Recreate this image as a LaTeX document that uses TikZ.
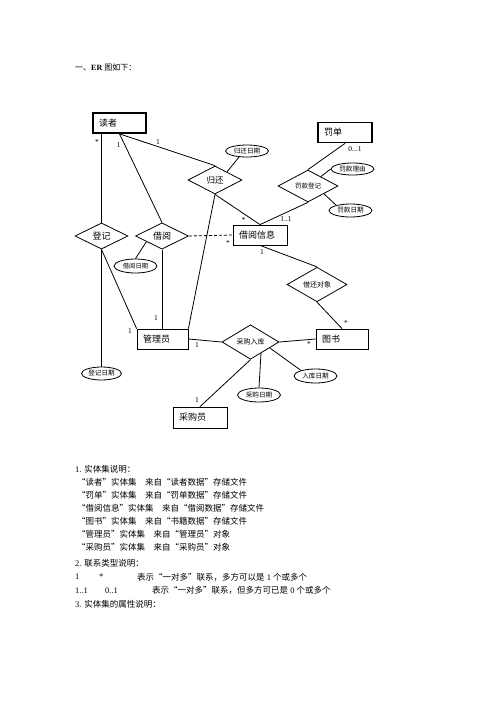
\documentclass[tikz,border=0pt]{standalone}
\usepackage{fontspec}
\setmainfont{Liberation Serif}
\newfontfamily\cjk{Noto Sans CJK SC}
\usetikzlibrary{shapes.geometric}
\begin{document}
\begin{tikzpicture}[x=1pt,y=-1pt,
  ent/.style={draw,line width=0.8pt,rectangle,minimum height=20pt,inner xsep=6pt,inner ysep=0pt,text width=#1,align=left,font=\cjk\fontsize{9}{9}\selectfont},
  thickent/.style={ent=#1,line width=1.7pt},
  rel/.style={draw,diamond,line width=0.8pt,inner sep=0pt},
  attr/.style={draw,ellipse,line width=0.8pt,inner sep=0pt,minimum width=43pt,minimum height=13pt,font=\cjk\fontsize{6.6}{6.6}\selectfont},
  lbl/.style={inner sep=0pt,font=\fontsize{7.5}{7.5}\selectfont},
  txt/.style={anchor=west,inner sep=0pt,font=\fontsize{8.5}{8.5}\selectfont},
  conn/.style={line width=0.8pt}]
\useasboundingbox (0,0) rectangle (496,702);

\node[txt,font=\fontsize{8}{8}\selectfont] (title) at (75,67) {{\cjk 一、}\textbf{ER} {\cjk 图如下：}};

% entities
\node[thickent=41pt] (reader) at (119.5,123) {读者};
\node[thickent=42pt] (fine) at (345,132.5) {罚单};
\node[ent=42pt] (binfo) at (260,235) {借阅信息};
\node[ent=39pt] (admin) at (162.5,339) {管理员};
\node[ent=40pt] (book) at (342,339) {图书};
\node[ent=42pt,minimum height=21pt] (buyer) at (200,417.5) {采购员};

% relationships
\node[rel,minimum width=53pt,minimum height=26pt,font=\cjk\fontsize{9}{9}\selectfont] (reg) at (101.5,236) {登记};
\node[rel,minimum width=53pt,minimum height=26pt,font=\cjk\fontsize{9}{9}\selectfont] (borrow) at (162,236) {借阅};
\node[rel,minimum width=54pt,minimum height=28pt,font=\cjk\fontsize{8.5}{8.5}\selectfont] (ret) at (215,180) {归还};
\node[rel,minimum width=60pt,minimum height=26pt,font=\cjk\fontsize{6.5}{6.5}\selectfont] (finereg) at (308,186) {罚款登记};
\node[rel,minimum width=60pt,minimum height=25pt,font=\cjk\fontsize{7}{7}\selectfont] (obj) at (317,284.5) {借还对象};
\node[rel,minimum width=57pt,minimum height=26pt,font=\cjk\fontsize{7}{7}\selectfont] (buy) at (250.5,342) {采购入库};

% attributes
\node[attr,minimum height=12pt] (rdate) at (247,151) {归还日期};
\node[attr,minimum height=12pt] (reason) at (352.5,169) {罚款理由};
\node[attr] (fdate) at (350.5,210.5) {罚款日期};
\node[attr,minimum height=14pt,font=\cjk\fontsize{6.3}{6.3}\selectfont] (bdate) at (135.5,266) {借阅日期};
\node[attr,minimum width=40pt] (rgdate) at (101.5,373.5) {登记日期};
\node[attr,minimum height=14pt] (pdate) at (259,395) {采购日期};
\node[attr,minimum height=14pt] (sdate) at (315.5,376) {入库日期};

% connectors
\draw[conn] (reg.north |- reader.south) -- (reg.north);
\draw[conn] (reader.south) -- (borrow.north);
\draw[conn] (reader.south) -- (ret.north);
\draw[conn] (ret.south) -- (binfo.north);
\draw[conn] (ret.south) -- (admin.north east);
\draw[conn] (ret.34) -- (rdate.-143);
\draw[conn] (finereg.north) -- (fine.south);
\draw[conn] (finereg.south) -- (binfo.north);
\draw[conn] (finereg.36) -- (reason.west);
\draw[conn] (finereg.-26) -- (fdate.160);
\draw[conn,dash pattern=on 3pt off 2pt] (borrow.east) -- (binfo.west);
\draw[conn] (borrow.-160) -- (bdate.north);
\draw[conn] (borrow.south) -- (borrow.south |- admin.north);
\draw[conn] (reg.south) -- (rgdate.north);
\draw[conn] (reg.south) -- (admin.north west);
\draw[conn] (binfo.south) -- (obj.north);
\draw[conn] (obj.south) -- (book.north);
\draw[conn] (admin.east) -- (buy.west);
\draw[conn] (buy.east) -- (book.west);
\draw[conn] (buy.south) -- (buyer.north);
\draw[conn] (buy.-47) -- (pdate.north);
\draw[conn] (buy.-17) -- (sdate.159);

% multiplicities
\node[lbl] (m1) at (97,142) {*};
\node[lbl] (m2) at (118.5,145) {1};
\node[lbl] (m3) at (158,142.5) {1};
\node[lbl] (m4) at (355,149) {0...1};
\node[lbl] (m5) at (243.5,220) {*};
\node[lbl] (m6) at (286,219) {1..1};
\node[lbl] (m7) at (228,243) {*};
\node[lbl] (m8) at (262,252) {1};
\node[lbl] (m9) at (346,323) {*};
\node[lbl] (m10) at (156,318) {1};
\node[lbl] (m11) at (130,331.5) {1};
\node[lbl] (m12) at (197,345) {1};
\node[lbl] (m13) at (309,344) {*};
\node[lbl] (m14) at (197,400) {1};

% text
\node[txt] (t1) at (75,469) {1. {\cjk 实体集说明：}};
\node[txt] (t2) at (77,482) {\cjk “读者”实体集　来自“读者数据”存储文件};
\node[txt] (t3) at (77,495) {\cjk “罚单”实体集　来自“罚单数据”存储文件};
\node[txt] (t4) at (77,508) {\cjk “借阅信息”实体集　来自“借阅数据”存储文件};
\node[txt] (t5) at (77,521) {\cjk “图书”实体集　来自“书籍数据”存储文件};
\node[txt] (t6) at (77,534) {\cjk “管理员”实体集　来自“管理员”对象};
\node[txt] (t7) at (77,547) {\cjk “采购员”实体集　来自“采购员”对象};
\node[txt] (t8) at (75,563) {2. {\cjk 联系类型说明：}};
\node[txt] (t9a) at (75,577) {1};
\node[txt] (t9b) at (99,577) {*};
\node[txt] (t9c) at (137,577) {{\cjk 表示“一对多”联系，多方可以是} 1 {\cjk 个或多个}};
\node[txt] (t10a) at (75,590.5) {1..1};
\node[txt] (t10b) at (105,590.5) {0..1};
\node[txt] (t10c) at (152,590.5) {{\cjk 表示“一对多”联系，但多方可已是} 0 {\cjk 个或多个}};
\node[txt] (t11) at (75,604) {3. {\cjk 实体集的属性说明：}};
\end{tikzpicture}
\end{document}
